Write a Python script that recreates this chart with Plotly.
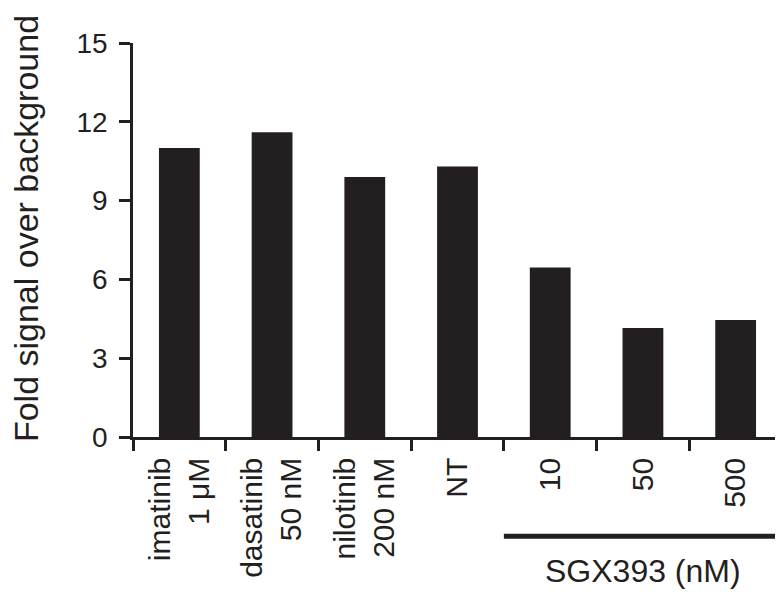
import plotly.graph_objects as go

categories = ["imatinib<br>1 μM", "dasatinib<br>50 nM", "nilotinib<br>200 nM", "NT", "10", "50", "500"]
values = [11.0, 11.6, 9.9, 10.3, 6.45, 4.15, 4.45]
y_ticks = [0, 3, 6, 9, 12, 15]
y_title = "Fold signal over background"
group_label = "SGX393 (nM)"

INK = "#231f20"
FONT = "Liberation Sans, Arial, Helvetica, sans-serif"

fig = go.Figure(go.Bar(
    x=categories, y=values,
    marker=dict(color=INK, line=dict(width=0)),
))

# page body has an 8px default margin; size the figure so the plot area lands
# where the reference has it
fig.update_layout(
    width=775, height=584,
    margin=dict(l=125, r=1, t=35, b=155),
    paper_bgcolor="white", plot_bgcolor="white",
    bargap=0.56,
    showlegend=False,
    font=dict(family=FONT, color=INK),
)

fig.update_xaxes(
    type="category", range=[-0.5, 6.5],
    tickson="boundaries", ticks="outside", ticklen=11, tickwidth=2.5, tickcolor=INK,
    showline=True, linewidth=2.5, linecolor=INK,
    tickangle=-90, tickfont=dict(size=30, family=FONT, color=INK),
    ticklabelstandoff=6,
    showgrid=False, zeroline=False,
)
fig.update_yaxes(
    range=[0, 15], tickvals=y_ticks,
    ticks="outside", ticklen=11, tickwidth=2.5, tickcolor=INK,
    showline=True, linewidth=2.5, linecolor=INK,
    tickfont=dict(size=28, family=FONT, color=INK),
    ticklabelstandoff=6,
    showgrid=False, zeroline=False,
)

fig.add_annotation(
    text=y_title, xref="paper", yref="paper", x=-0.165, y=0.53,
    textangle=-90, showarrow=False, xanchor="center", yanchor="middle",
    font=dict(size=34, family=FONT, color=INK),
)
fig.add_annotation(
    text=group_label, xref="x", yref="paper", x=5, y=-0.341,
    showarrow=False, xanchor="center", yanchor="middle",
    font=dict(size=32, family=FONT, color=INK),
)
fig.add_shape(
    type="line", xref="x", yref="paper", x0=3.5, x1=6.47, y0=-0.252, y1=-0.252,
    line=dict(color=INK, width=5),
)

fig.write_html("out.html")
